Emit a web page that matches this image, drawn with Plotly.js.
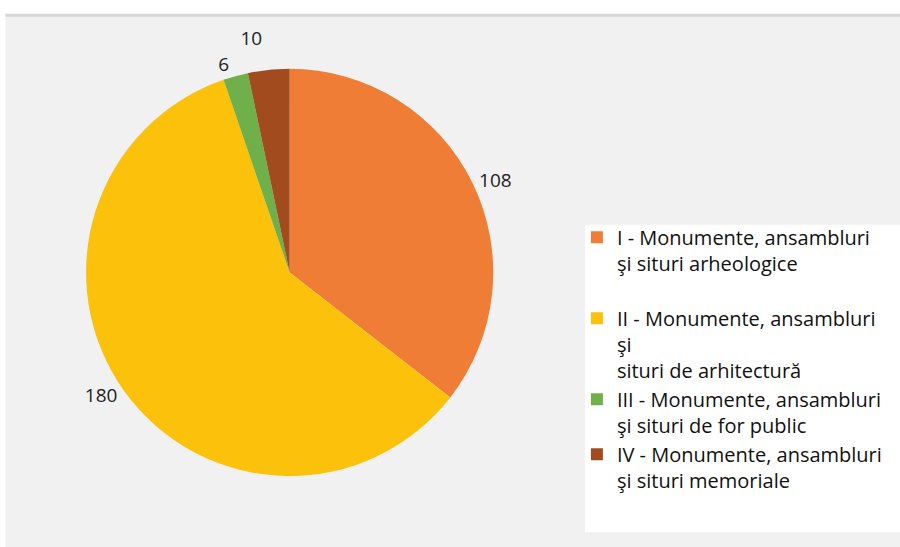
<!DOCTYPE html>
<html>
<head>
<meta charset="utf-8">
<script src="https://cdn.plot.ly/plotly-3.0.1.min.js"></script>
<style>
  html, body { margin: 0; padding: 0; background: #fff; }
  #chart { width: 900px; height: 547px; }
  /* no leader lines in the original */
  #chart path.textline { display: none; }
</style>
</head>
<body>
<div id="chart"></div>
<script>
const categorii = [
  "I - Monumente, ansambluri<br>şi situri arheologice<br> ",
  "II - Monumente, ansambluri<br>şi<br>situri de arhitectură",
  "III - Monumente, ansambluri<br>şi situri de for public",
  "IV - Monumente, ansambluri<br>şi situri memoriale",
];
const valori = [108, 180, 6, 10];
const culori = ["#ef7d36", "#fcc10a", "#6fb04a", "#a24b1f"];

Plotly.newPlot("chart", [{
  type: "pie",
  labels: categorii,
  values: valori,
  sort: false,
  direction: "clockwise",
  rotation: 0,
  marker: { colors: culori, line: { width: 0 } },
  textinfo: "value",
  textposition: "outside",
  textfont: { family: "Open Sans, sans-serif", size: 19, color: "#222" },
  hoverinfo: "label+value",
  domain: { x: [0.0956, 0.548], y: [0.128, 0.876] },
}], {
  width: 900,
  height: 547,
  margin: { l: 0, r: 0, t: 0, b: 0 },
  paper_bgcolor: "#f1f1f1",
  showlegend: true,
  legend: {
    x: 0.641, y: 0.602, xanchor: "left", yanchor: "top",
    bgcolor: "rgba(0,0,0,0)",
    font: { family: "Open Sans, sans-serif", size: 20, color: "#111" },
    valign: "top",
    itemwidth: 30,
  },
  shapes: [
    { type: "rect", xref: "paper", yref: "paper", x0: 0, x1: 1, y0: 0.974, y1: 1,
      fillcolor: "#fff", line: { width: 0 }, layer: "below" },
    { type: "rect", xref: "paper", yref: "paper", x0: 0, x1: 0.006, y0: 0, y1: 1,
      fillcolor: "#fff", line: { width: 0 }, layer: "below" },
    { type: "line", xref: "paper", yref: "paper", x0: 0.006, x1: 1, y0: 0.972, y1: 0.972,
      line: { color: "#d6d6d6", width: 3 }, layer: "below" },
    { type: "rect", xref: "paper", yref: "paper", x0: 0.65, x1: 1, y0: 0.027, y1: 0.589,
      fillcolor: "#fff", line: { width: 0 }, layer: "below" },
  ],
}, { displayModeBar: false });
</script>
</body>
</html>
